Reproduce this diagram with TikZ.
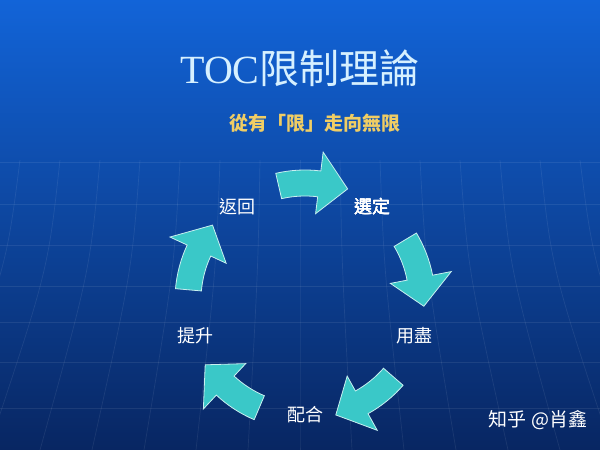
\documentclass[tikz,border=0pt]{standalone}
\usepackage{fontspec}
\setmainfont{Liberation Serif}
\newfontfamily\cjk{Noto Sans CJK TC}
\newfontfamily\cjksc{Noto Sans CJK SC}
\definecolor{slidetop}{RGB}{18,100,216}
\definecolor{slidebottom}{RGB}{8,38,98}
\definecolor{titleblue}{RGB}{214,240,255}
\definecolor{subgold}{RGB}{240,205,100}
\definecolor{arrowteal}{RGB}{58,200,200}
\definecolor{arrowedge}{RGB}{200,240,240}

\tikzset{
  step label/.style={text=white, font=\cjk\mdseries\fontsize{18}{18}\selectfont},
  cycle arrow/.style={fill=arrowteal, draw=arrowedge, line width=0.8pt, line join=miter},
  grid line/.style={white, opacity=0.08, line width=0.7pt},
}

\newcommand{\cyclearrow}[1]{%
  \draw[cycle arrow] (#1+13:130) arc[start angle=#1+13, end angle=#1-7, radius=130pt]
    -- (#1-7:149) -- (#1-21:119) -- (#1-7:87) -- (#1-7:104)
    arc[start angle=#1-7, end angle=#1+13, radius=104pt] -- cycle;}

\begin{document}
\begin{tikzpicture}[x=1pt, y=1pt]
  \shade[top color=slidetop, bottom color=slidebottom] (0,0) rectangle (600,450);
  \useasboundingbox (0,0) rectangle (600,450);

  \foreach \h in {288,246,205,164,128,88,42}
    \draw[grid line] (0,\h) -- (600,\h);
  \foreach \k in {-7,...,7}
    \draw[grid line] (300+\k*40,290) .. controls (300+\k*42,180) .. (300+\k*52,0);

  \node (title) at (300,382) {\color{titleblue}\fontsize{40}{40}\selectfont TOC\cjk 限制理論};
  \node[text=subgold, font=\cjk\bfseries\fontsize{19}{19}\selectfont] (motto) at (315,327) {從有「限」走向無限};

  \begin{scope}[shift={(305,150)}]
    \foreach \a in {90,18,-54,-126,162}
      \cyclearrow{\a}
    \node[step label] (select) at (54:115) {選定};
    \node[step label] (exhaust) at (-18:115) {用盡};
    \node[step label] (cooperate) at (-90:115) {配合};
    \node[step label] (raise) at (198:115) {提升};
    \node[step label] (back) at (126:115) {返回};
  \end{scope}

  \node[text=white, font=\cjksc\fontsize{19}{19}\selectfont] (mark) at (538,30) {知乎 @肖鑫};
\end{tikzpicture}
\end{document}
